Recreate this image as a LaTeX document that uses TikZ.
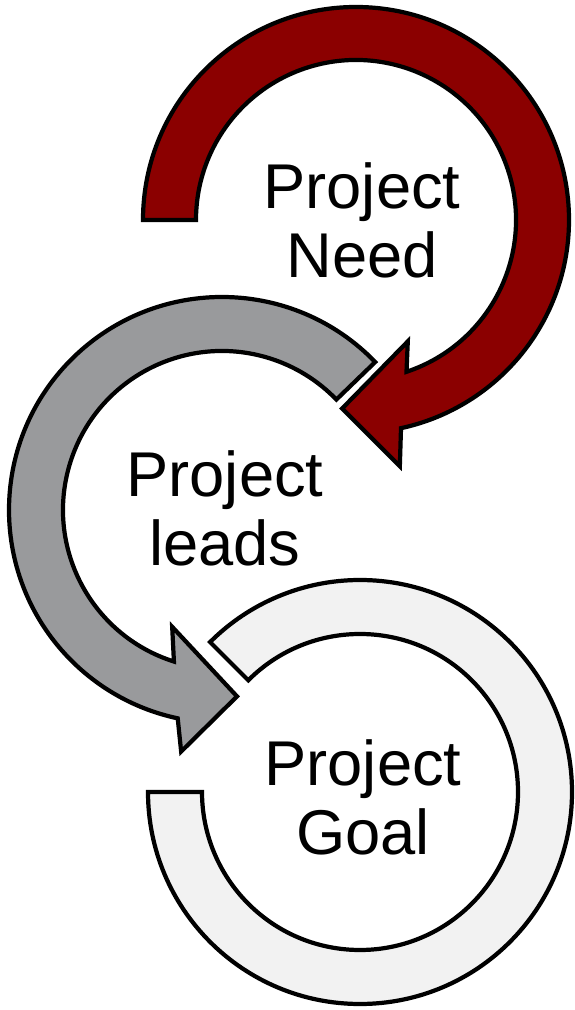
\documentclass[tikz,border=0pt]{standalone}
\usepackage{fontspec}
\setmainfont{Liberation Sans}
\usetikzlibrary{positioning}
\definecolor{needred}{RGB}{139,0,0}
\definecolor{leadgray}{RGB}{153,154,156}
\definecolor{goalgray}{RGB}{242,242,242}
\tikzset{
  ring/.style={draw=black,line width=3.6pt},
  lbl/.style={align=center,inner sep=0pt,font=\fontsize{54}{59}\selectfont}
}
\begin{document}
\begin{tikzpicture}[x=0.03cm,y=0.03cm]
\useasboundingbox (0,0) rectangle (574,1010);
\draw[ring,fill=goalgray,shift={(360,218)}] (180:212) arc[start angle=180,end angle=495,radius=212] -- (135:158) arc[start angle=135,end angle=-180,radius=158] -- cycle;
\draw[ring,fill=leadgray,shift={(222,500)}] (44:213) arc[start angle=44,end angle=258,radius=213] -- (260.4:245) -- (274.6:187) -- (246.9:127) -- (252.4:159) arc[start angle=252.4,end angle=44,radius=159] -- cycle;
\draw[ring,fill=needred,shift={(356,790)}] (180:213) arc[start angle=180,end angle=-77.8,radius=213] -- (-79.9:250) -- (-94.2:189) -- (-66.9:132) -- (-71.6:160) arc[start angle=-71.6,end angle=180,radius=160] -- cycle;
\node[lbl] (need) at (362,790) {Project\\Need};
\node[lbl] (leads) at (225,502) {Project\\leads};
\node[lbl] (goal) at (363,213) {Project\\Goal};
\end{tikzpicture}
\end{document}
